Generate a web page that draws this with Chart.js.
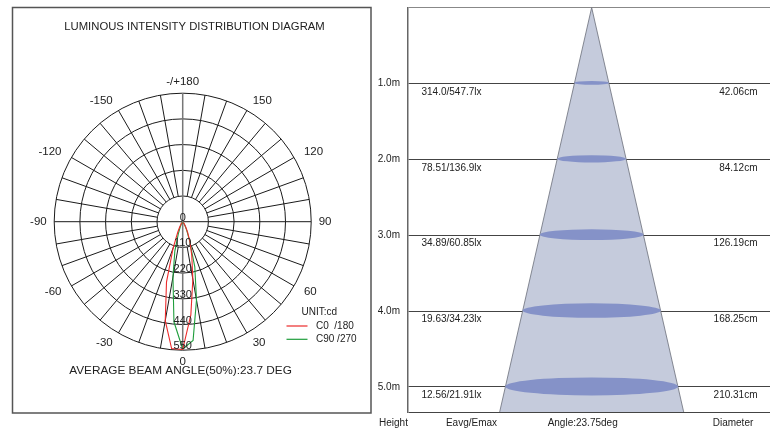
<!DOCTYPE html>
<html><head><meta charset="utf-8">
<script src="https://cdn.jsdelivr.net/npm/chart.js@4.4.0/dist/chart.umd.min.js"></script>
<style>
html,body{margin:0;padding:0;background:#fff;}
#wrap{position:relative;width:770px;height:430px;overflow:hidden;background:#fff;}
#left{position:absolute;left:0;top:0;}
#right{position:absolute;left:372px;top:0;}
</style></head><body>
<div id="wrap">
<canvas id="left" width="372" height="430"></canvas>
<canvas id="right" width="398" height="430"></canvas>
</div>
<script>
// ---------------- data ----------------
const gammaAngles = [-40,-35,-30,-25,-20,-15,-10,-5,0,5,10,15,20,25,30,35,40];
const intensityC0_180 = [4,10,25,50,120,268,430,545,547,400,250,150,90,50,25,10,4];
const intensityC90_270 = [3,6,12,25,55,130,240,430,545,510,340,200,85,40,18,8,3];
const seriesNames = ['C0  /180','C90 /270'];
const ringValues = [110,220,330,440,550];
const angleTickValues = [180,150,120,90,60,30,0,-30,-60,-90,-120,-150];
const angleTickLabels = ['-/+180','150','120','90','60','30','0','-30','-60','-90','-120','-150'];
const avgBeamAngle = '23.7';

const heights = [1,2,3,4,5];
const heightLabels = ['1.0m','2.0m','3.0m','4.0m','5.0m'];
const eavgLabels = ['314.0','78.51','34.89','19.63','12.56'];
const emaxLabels = ['547.7','136.9','60.85','34.23','21.91'];
const diametersCm = [42.06,84.12,126.19,168.25,210.31];
const beamAngleDeg = 23.75;

// ---------------- styles ----------------
const FONT = 'Liberation Sans, Arial, Helvetica, sans-serif';
const RED = '#ec2b2b', GREEN = '#1f9e3c';
const TEXT = '#222';

function toXY(vals){
  return gammaAngles.map((g,i)=>{
    const a = g*Math.PI/180;
    return {x: vals[i]*Math.sin(a), y: -vals[i]*Math.cos(a)};
  });
}

// ---------------- left: polar intensity diagram ----------------
const polarPlugin = {
  id:'polarGrid',
  beforeDatasetsDraw(chart){
    const ctx = chart.ctx, xs = chart.scales.x, ys = chart.scales.y;
    const cx = xs.getPixelForValue(0), cy = ys.getPixelForValue(0);
    const R = v => xs.getPixelForValue(v) - cx;
    const rMin = R(ringValues[0]), rMax = R(ringValues[ringValues.length-1]);
    ctx.save();
    ctx.strokeStyle = '#1a1a1a'; ctx.lineWidth = 1;
    ringValues.forEach(v=>{ ctx.beginPath(); ctx.arc(cx,cy,R(v),0,Math.PI*2); ctx.stroke(); });
    for(let a=-170;a<=180;a+=10){
      if(a%90===0) continue;
      const t = a*Math.PI/180, sx = Math.sin(t), sy = Math.cos(t);
      ctx.beginPath();
      ctx.moveTo(cx+sx*rMin, cy+sy*rMin);
      ctx.lineTo(cx+sx*rMax, cy+sy*rMax);
      ctx.stroke();
    }
    ctx.beginPath(); ctx.moveTo(cx-rMax,cy); ctx.lineTo(cx+rMax,cy); ctx.stroke();
    ctx.strokeStyle = '#777'; ctx.lineWidth = 1.5;
    ctx.beginPath(); ctx.moveTo(cx,cy-rMax); ctx.lineTo(cx,cy+rMax); ctx.stroke();
    ctx.restore();
  },
  afterDatasetsDraw(chart){
    const ctx = chart.ctx, xs = chart.scales.x, ys = chart.scales.y;
    const cx = xs.getPixelForValue(0), cy = ys.getPixelForValue(0);
    const R = v => xs.getPixelForValue(v) - cx;
    ctx.save();
    ctx.fillStyle = TEXT;
    ctx.font = '11px '+FONT; ctx.textAlign='center'; ctx.textBaseline='middle';
    ctx.fillText('0', cx, cy-4);
    ringValues.forEach(v=> ctx.fillText(String(v), cx, cy+R(v)-4));
    ctx.font = '11.5px '+FONT;
    const rl = R(ringValues[ringValues.length-1]) + 11.5;
    angleTickValues.forEach((a,i)=>{
      const t = a*Math.PI/180, sx=Math.sin(t), sy=Math.cos(t);
      let x = cx+sx*rl, y = cy+sy*rl;
      if(Math.abs(sx)<0.01){ ctx.textAlign='center'; }
      else if(sx<0){ ctx.textAlign='right'; }
      else { ctx.textAlign='left'; }
      if(Math.abs(sy)<0.01){ x += sx>0 ? -4 : 4; }
      ctx.fillText(angleTickLabels[i], x, y);
    });
    ctx.font = '11.3px '+FONT; ctx.textAlign='center';
    ctx.fillText('LUMINOUS INTENSITY DISTRIBUTION DIAGRAM', 194.5, 27);
    ctx.font = '11.8px '+FONT;
    ctx.fillText('AVERAGE BEAM ANGLE(50%):'+avgBeamAngle+' DEG', 180.5, 370.5);
    ctx.font = '10px '+FONT; ctx.textAlign='left';
    ctx.fillText('UNIT:cd', 301.5, 312);
    const colors=[RED,GREEN];
    seriesNames.forEach((n,i)=>{
      const y = 326 + i*13.3;
      ctx.strokeStyle = colors[i]; ctx.lineWidth=1.2;
      ctx.beginPath(); ctx.moveTo(286.5,y); ctx.lineTo(307.5,y); ctx.stroke();
      ctx.fillText(n, 316, y);
    });
    ctx.strokeStyle='#555'; ctx.lineWidth=1.5;
    ctx.strokeRect(12.5,7.5,358.5,405.5);
    ctx.restore();
  }
};

new Chart(document.getElementById('left'), {
  type:'scatter',
  data:{datasets:[
    {label:seriesNames[0], data:toXY(intensityC0_180), showLine:true, borderColor:RED, backgroundColor:RED, borderWidth:1.1, pointRadius:0, fill:false, tension:0},
    {label:seriesNames[1], data:toXY(intensityC90_270), showLine:true, borderColor:GREEN, backgroundColor:GREEN, borderWidth:1.1, pointRadius:0, fill:false, tension:0}
  ]},
  options:{
    responsive:false, animation:false, devicePixelRatio:1,
    layout:{padding:{left:19.15,right:25.75,top:58.15,bottom:44.75}},
    scales:{
      x:{type:'linear',min:-700,max:700,display:false},
      y:{type:'linear',min:-700,max:700,display:false}
    },
    plugins:{legend:{display:false},tooltip:{enabled:false}}
  },
  plugins:[polarPlugin]
});

// ---------------- right: beam cone diagram ----------------
const yMaxM = 5.33;
const halfTan = Math.tan(beamAngleDeg/2*Math.PI/180);
const conePoints = [
  {x:-halfTan*yMaxM, y:yMaxM},
  {x:0, y:0},
  {x:halfTan*yMaxM, y:yMaxM}
];

const conePlugin = {
  id:'coneExtras',
  afterDatasetsDraw(chart){
    const ctx = chart.ctx, xs = chart.scales.x, ys = chart.scales.y;
    const ca = chart.chartArea;
    ctx.save();
    heights.forEach((h,i)=>{
      const cx = xs.getPixelForValue(0), cy = ys.getPixelForValue(h);
      const rx = xs.getPixelForValue(diametersCm[i]/200) - cx;
      const ry = rx*0.105;
      ctx.fillStyle = '#8592c8';
      ctx.beginPath(); ctx.ellipse(cx, cy-0.5, rx, ry, 0, 0, Math.PI*2); ctx.fill();
    });
    ctx.fillStyle = TEXT; ctx.font = '10px '+FONT; ctx.textBaseline='middle';
    heights.forEach((h,i)=>{
      const y = ys.getPixelForValue(h) + 8.5;
      ctx.textAlign='left';
      ctx.fillText(eavgLabels[i]+'/'+emaxLabels[i]+'lx', ca.left+13.5, y);
      ctx.textAlign='right';
      ctx.fillText(diametersCm[i].toFixed(2)+'cm', ca.right-12.5, y);
    });
    const yb = ca.bottom + 11.5;
    ctx.textAlign='left';
    ctx.fillText('Height', ca.left-29, yb);
    ctx.textAlign='center';
    ctx.fillText('Eavg/Emax', ca.left+63.5, yb);
    ctx.fillText('Angle:'+beamAngleDeg+'deg', xs.getPixelForValue(0)-9, yb);
    ctx.fillText('Diameter', ca.right-37, yb);
    ctx.restore();
  }
};

new Chart(document.getElementById('right'), {
  type:'scatter',
  data:{datasets:[
    {label:'cone', data:conePoints, showLine:true, fill:'start', borderColor:'#6b6f7a', borderWidth:0.8, backgroundColor:'#c5cbdc', pointRadius:0, tension:0}
  ]},
  options:{
    responsive:false, animation:false, devicePixelRatio:1,
    layout:{padding:{left:0,right:0,top:7.5,bottom:18}},
    scales:{
      x:{type:'linear',min:-2.237,max:2.172,display:false},
      y:{type:'linear',reverse:true,min:0,max:yMaxM,
         afterFit:(s)=>{s.width=36; s.paddingTop=0; s.paddingBottom=0;},
         ticks:{stepSize:1,autoSkip:false,padding:8,color:TEXT,font:{family:FONT,size:10},
           callback:(v)=>{const k=heights.indexOf(v); return k>=0?heightLabels[k]:'';}},
         grid:{drawTicks:false,lineWidth:1,color:(c)=> c.tick && c.tick.value===0 ? '#888' : '#444'},
         border:{display:true,color:'#666',width:1.5}
      }
    },
    plugins:{legend:{display:false},tooltip:{enabled:false}}
  },
  plugins:[conePlugin]
});
</script>
</body></html>
